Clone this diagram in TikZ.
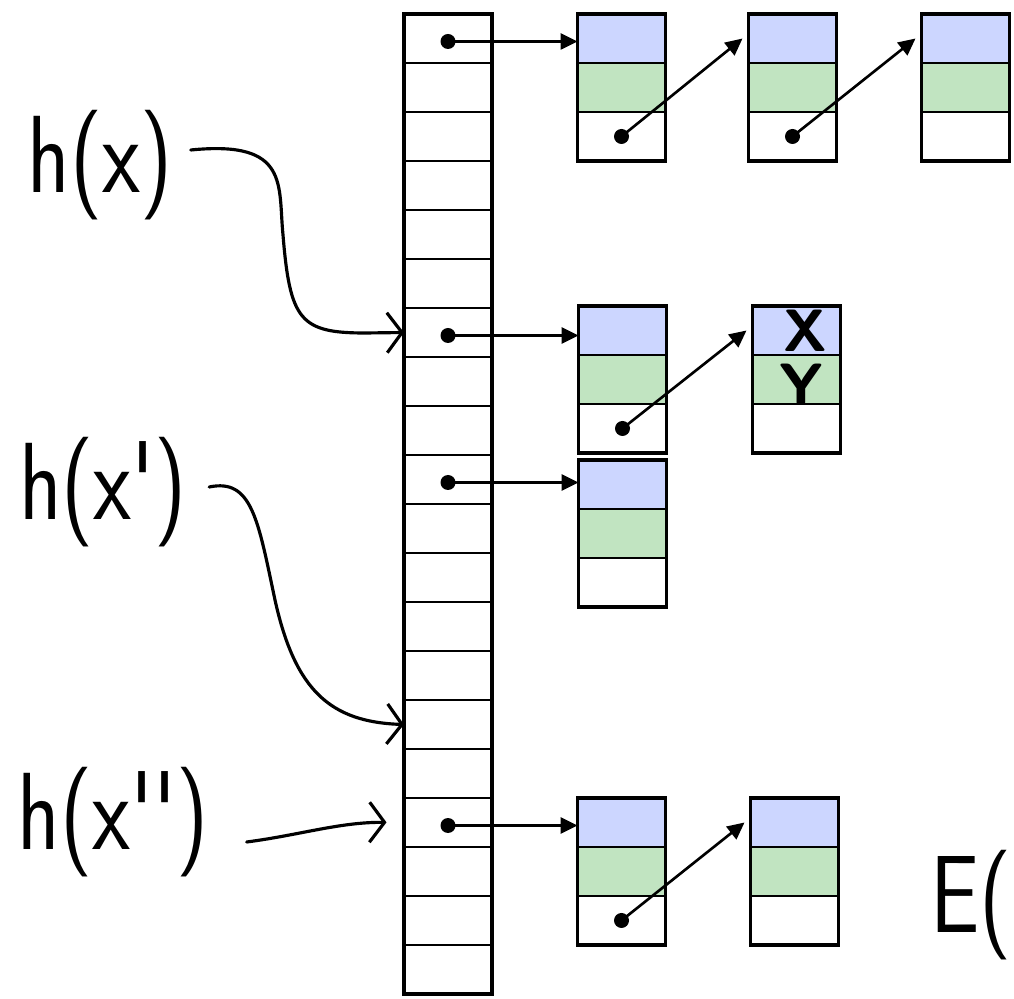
\documentclass[tikz,border=0pt]{standalone}
\usepackage{fontspec}
\usepackage{graphicx}
\usetikzlibrary{positioning,arrows.meta}

\definecolor{keyblue}{RGB}{204,214,255}
\definecolor{valgreen}{RGB}{193,228,193}

\tikzset{
    slot/.style={draw, line width=0.9pt, minimum width=1.76cm, minimum height=0.98cm, inner sep=0pt, outer sep=0pt},
    keycell/.style={slot, fill=keyblue},
    valcell/.style={slot, fill=valgreen},
    nextcell/.style={slot, fill=white},
    outline/.style={line width=1.9pt},
    dot/.style={circle, fill, inner sep=0pt, minimum size=0.3cm},
    ptr/.style={line width=1.5pt, -{Triangle[length=0.34cm,width=0.32cm]}},
    hand/.style={line width=1.8pt, line cap=round, line join=round, -{Straight Barb[length=0.3cm,width=0.8cm]}},
    scrawl/.style={font=\sffamily\fontsize{50}{50}\selectfont, inner sep=0pt},
    scribble/.style={font=\sffamily\bfseries\fontsize{34}{34}\selectfont, inner sep=0pt},
}

% key / value / next stacked into one chain entry
\newcommand\chainnode[3]{
    \node[keycell] (#1-key) at (#2,#3) {};
    \node[valcell, below=0pt of #1-key] (#1-val) {};
    \node[nextcell, below=0pt of #1-val] (#1-nxt) {};
    \draw[outline] (#1-key.north west) rectangle (#1-nxt.south east);
}

\begin{document}
\begin{tikzpicture}[x=0.02cm, y=-0.02cm]
    \useasboundingbox (0,0) rectangle (1014,999);
    \clip (0,0) rectangle (1014,999);

    % the table
    \foreach \i in {0,...,19}
        \node[slot] (s\i) at (448, 38.5+49*\i) {};
    \draw[outline] (s0.north west) rectangle (s19.south east);

    \chainnode{a1}{621.5}{38.5}
    \chainnode{a2}{792.5}{38.5}
    \chainnode{a3}{965.5}{38.5}
    \chainnode{b1}{622.5}{330.5}
    \chainnode{b2}{796.5}{330.5}
    \chainnode{c1}{622.5}{484.5}
    \chainnode{d1}{621.5}{822.5}
    \chainnode{d2}{794.5}{822.5}

    \foreach \s/\e in {0/a1, 6/b1, 9/c1, 16/d1} {
        \node[dot, yshift=-0.06cm] (p\s) at (s\s) {};
        \draw[ptr] (p\s.center) -- (p\s.center -| \e-key.west);
    }
    \foreach \f/\t in {a1/a2, a2/a3, b1/b2, d1/d2} {
        \node[dot] (q\f) at (\f-nxt) {};
        \draw[ptr] (q\f.center) -- ([shift={(-6,0)}]\t-key.west);
    }

    \node[scribble, xshift=0.18cm] (b2x) at (b2-key) {X};
    \node[scribble, xshift=0.1cm, yshift=-0.1cm] (b2y) at (b2-val) {Y};

    % hand written lookups
    \node[scrawl] (hx) at (100,165) {\scalebox{1}[1.25]{h(x)}};
    \node[scrawl] (hx1) at (103,492) {\scalebox{1}[1.25]{h(x\textquotesingle)}};
    \node[scrawl] (hx2) at (113,822) {\scalebox{1}[1.25]{h(x\textquotesingle\textquotesingle)}};
    \node[scrawl, anchor=east] (ex) at (1012,905) {\scalebox{1}[1.25]{E(}};

    \draw[hand] ([shift={(18,-15)}]hx.east) .. controls (290,140) and (278,185) .. (283,235)
        .. controls (290,320) and (300,333) .. (365,333) -- (s6.west);
    \draw[hand] ([shift={(22,-5)}]hx1.east) .. controls (252,478) and (258,520) .. (275,600)
        .. controls (295,690) and (330,722) .. (s14.west);
    \draw[hand, shorten >=0.35cm] ([shift={(38,20)}]hx2.east) .. controls (300,835) and (340,822) .. (s16.west);
\end{tikzpicture}
\end{document}
